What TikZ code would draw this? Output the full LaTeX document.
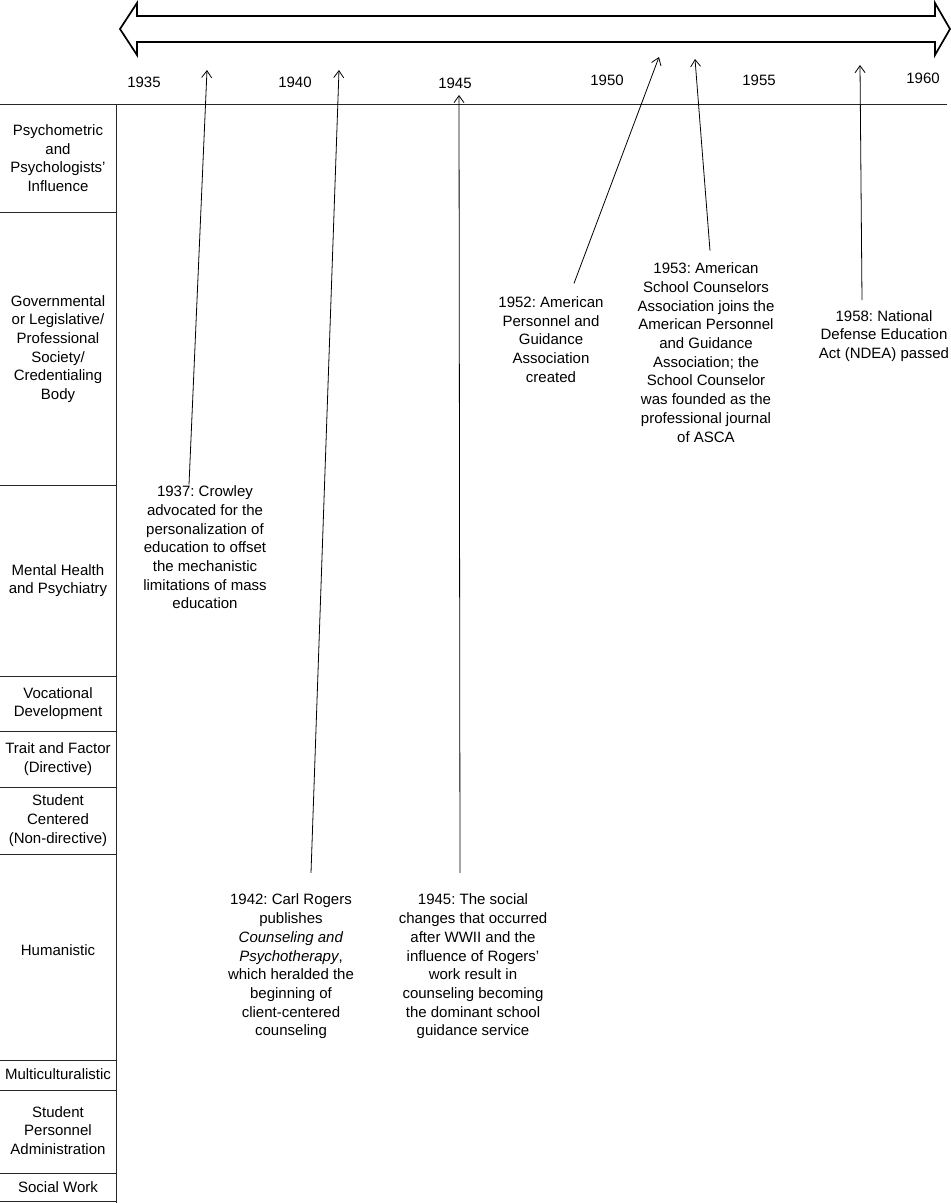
\documentclass[tikz,border=0pt]{standalone}
\usepackage{fontspec}
\setmainfont{Liberation Sans}
\usetikzlibrary{arrows.meta}
\frenchspacing
\begin{document}
\begin{tikzpicture}[x=1pt,y=-1pt,
  lbl/.style={align=center,inner sep=0pt,font=\fontsize{15}{18.7}\selectfont},
  yr/.style={inner sep=0pt,font=\fontsize{15}{18.7}\selectfont},
  grid/.style={line width=0.8pt,black!85},
  ptr/.style={line width=0.8pt,-{Straight Barb[length=7pt,width=10pt]}},
  big/.style={line width=1.7pt,line join=miter}]
\useasboundingbox (0,0) rectangle (951,1203);
% big double arrow
\draw[big] (120,29) -- (137,3) -- (137,16) -- (935,16) -- (935,3) -- (950,29)
  -- (935,55) -- (935,42) -- (137,42) -- (137,55) -- cycle;
% years
\node[yr] (y35) at (144,82) {1935};
\node[yr] (y40) at (295,82) {1940};
\node[yr] (y45) at (455,83) {1945};
\node[yr] (y50) at (607,80) {1950};
\node[yr] (y55) at (759,80) {1955};
\node[yr] (y60) at (923,78) {1960};
% grid
\draw[grid] (0,104) -- (947,104);
\draw[grid] (116,104) -- (116,1203);
\foreach \yy in {212,485,676,731,787,854,1060,1090,1173,1201}
  \draw[grid] (0,\yy) -- (116,\yy);
% row labels
\node[lbl] (r1) at (58,158) {Psychometric\\and\\Psychologists'\\Influence};
\node[lbl] (r2) at (58,349) {Governmental\\or Legislative/\\Professional\\Society/\\Credentialing\\Body};
\node[lbl] (r3) at (58,580.5) {Mental Health\\and Psychiatry};
\node[lbl] (r4) at (58,703.5) {Vocational\\Development};
\node[lbl] (r5) at (58,759) {Trait and Factor\\(Directive)};
\node[lbl] (r6) at (58,820.5) {Student\\Centered\\(Non-directive)};
\node[lbl] (r7) at (58,950) {Humanistic};
\node[lbl] (r8) at (58,1074) {Multiculturalistic};
\node[lbl] (r9) at (58,1130.5) {Student\\Personnel\\Administration};
\node[lbl] (r10) at (58,1187) {Social Work};
% events
\node[lbl] (e37) at (205,547.5) {1937: Crowley\\advocated for the\\personalization of\\education to offset\\the mechanistic\\limitations of mass\\education};
\node[lbl] (e42) at (291,966.5) {1942: Carl Rogers\\publishes\\\textit{Counseling and}\\\textit{Psychotherapy},\\which heralded the\\beginning of\\client-centered\\counseling};
\node[lbl] (e45) at (473,966.5) {1945: The social\\changes that occurred\\after WWII and the\\influence of Rogers'\\work result in\\counseling becoming\\the dominant school\\guidance service};
\node[lbl] (e52) at (551,339.5) {1952: American\\Personnel and\\Guidance\\Association\\created};
\node[lbl] (e53) at (706,352.5) {1953: American\\School Counselors\\Association joins the\\American Personnel\\and Guidance\\Association; the\\School Counselor\\was founded as the\\professional journal\\of ASCA};
\node[lbl] (e58) at (884,336) {1958: National\\Defense Education\\Act (NDEA) passed};
% arrow tips
\coordinate (t37) at (207,70);
\coordinate (t42) at (339,70);
\coordinate (t45) at (459,95);
\coordinate (t52) at (659,57);
\coordinate (t53) at (695,59);
\coordinate (t58) at (860,65);
\draw[ptr] ([xshift=-16pt,yshift=1pt]e37.north) -- (t37);
\draw[ptr] ([xshift=20pt,yshift=21pt]e42.north) -- (t42);
\draw[ptr] ([xshift=-13pt,yshift=21pt]e45.north) -- (t45);
\draw[ptr] ([xshift=23pt,yshift=13pt]e52.north) -- (t52);
\draw[ptr] ([xshift=4pt,yshift=12pt]e53.north) -- (t53);
\draw[ptr] ([xshift=-22pt,yshift=10pt]e58.north) -- (t58);
\end{tikzpicture}
\end{document}
